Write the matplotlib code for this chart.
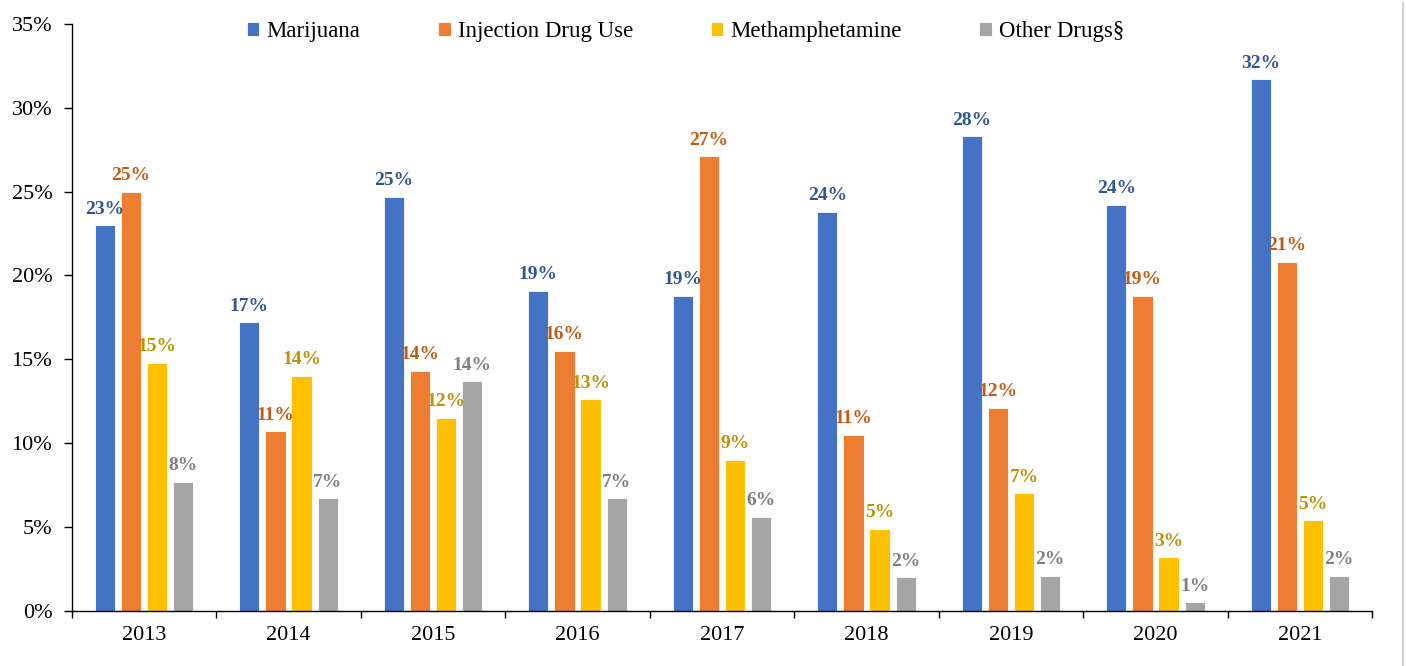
import numpy as np
import matplotlib.pyplot as plt
from matplotlib.lines import Line2D
from matplotlib.ticker import PercentFormatter, FixedLocator

years = ['2013', '2014', '2015', '2016', '2017', '2018', '2019', '2020', '2021']
series_names = ['Marijuana', 'Injection Drug Use', 'Methamphetamine', 'Other Drugs§']

marijuana = [23.0, 17.2, 24.7, 19.1, 18.8, 23.8, 28.3, 24.2, 31.7]
injection = [25.0, 10.7, 14.3, 15.5, 27.1, 10.5, 12.1, 18.8, 20.8]
meth = [14.8, 14.0, 11.5, 12.6, 9.0, 4.9, 7.0, 3.2, 5.4]
other = [7.7, 6.7, 13.7, 6.7, 5.6, 2.0, 2.1, 0.5, 2.1]

bar_colors = ['#4472C4', '#ED7D31', '#FFC000', '#A5A5A5']
label_colors = ['#2F5597', '#C55A11', '#BF9000', '#7F7F7F']

plt.rcParams['font.family'] = ['Liberation Serif', 'DejaVu Serif']

fig, ax = plt.subplots(figsize=(14.06, 6.66), dpi=100)
fig.subplots_adjust(left=0.051, right=0.976, bottom=0.083, top=0.964)

x = np.arange(len(years))
width = 0.14
step = 0.181
offsets = (np.arange(4) - 1.5) * step

for i, (vals, name) in enumerate(zip([marijuana, injection, meth, other], series_names)):
    bars = ax.bar(x + offsets[i], vals, width, color=bar_colors[i], label=name,
                  edgecolor='white', linewidth=0.6)
    for b, v in zip(bars, vals):
        # round half up, like the source labels
        ax.text(b.get_x() + b.get_width() / 2, v + 0.45, f'{int(v + 0.5)}%',
                ha='center', va='bottom', fontsize=14, fontweight='bold',
                color=label_colors[i])

ax.set_ylim(0, 35)
ax.set_xlim(-0.5, len(years) - 0.5)
ax.set_yticks(np.arange(0, 36, 5))
ax.yaxis.set_major_formatter(PercentFormatter(decimals=0))
ax.set_xticks(x)
ax.set_xticklabels(years)
ax.xaxis.set_minor_locator(FixedLocator(np.arange(-0.5, len(years), 1.0)))
ax.tick_params(axis='x', which='major', length=0, labelsize=16, pad=11)
ax.tick_params(axis='x', which='minor', length=5, width=1, direction='out')
ax.tick_params(axis='y', length=6, width=1, labelsize=16, pad=8)

for s in ['top', 'right']:
    ax.spines[s].set_visible(False)
for s in ['left', 'bottom']:
    ax.spines[s].set_color('black')
    ax.spines[s].set_linewidth(1)

ax.legend(loc='upper center', bbox_to_anchor=(0.472, 1.04), ncol=4, frameon=False,
          fontsize=16.5, handlelength=0.55, handleheight=0.55, handletextpad=0.3,
          columnspacing=3.4)

# thin grey frame edge at the right of the source image
fig.add_artist(Line2D([0.998, 0.998], [0, 0.995], transform=fig.transFigure,
                      color='#D0D0D0', linewidth=1.5))

plt.savefig('out.png', dpi=100)
